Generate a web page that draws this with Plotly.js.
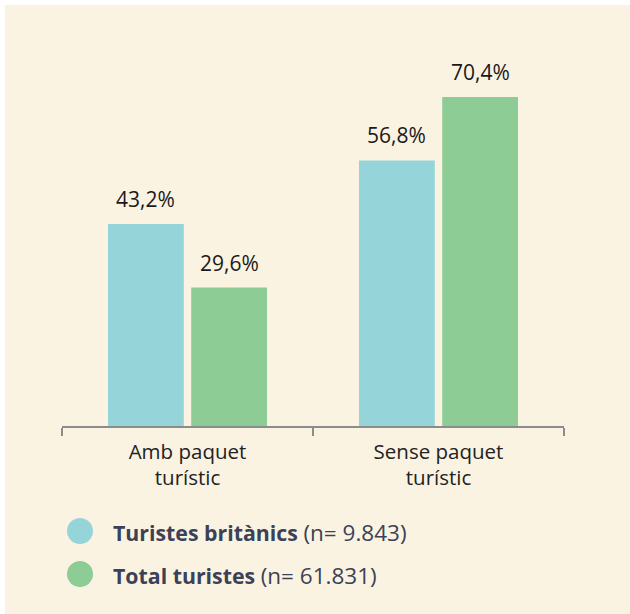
<!DOCTYPE html>
<html>
<head>
<meta charset="utf-8">
<script src="https://cdn.plot.ly/plotly-3.0.1.min.js"></script>
<style>
html,body{margin:0;padding:0;background:#ffffff;}
#chart{position:absolute;left:5px;top:5px;width:625px;height:609px;}
</style>
</head>
<body>
<div id="chart"></div>
<script>
// ---- data ----
const categories = ["Amb paquet<br>turístic", "Sense paquet<br>turístic"];
const seriesNames = ["Turistes britànics", "Total turistes"];
const seriesN = ["(n= 9.843)", "(n= 61.831)"];
const britanics = [43.2, 56.8];
const total = [29.6, 70.4];
const seriesValues = [britanics, total];

// ---- style ----
const colors = ["#95D5D9", "#8DCC95"];
const FONT = "Open Sans, sans-serif";
const fmt = v => v.toFixed(1).replace(".", ",") + "%";

const L = 57, R = 66, T = 47, B = 188, W = 625, H = 609;
const PW = W - L - R, PH = H - T - B;
// page pixel -> paper coords (div offset 5px)
const px = x => (x - 5 - L) / PW;
const py = y => (H - B - (y - 5)) / PH;

const traces = seriesValues.map((vals, i) => ({
  type: "bar",
  x: categories,
  y: vals,
  name: seriesNames[i],
  marker: {color: colors[i]},
  hoverinfo: "skip",
  showlegend: false
}));

const annotations = [];
seriesValues.forEach((vals, i) => {
  vals.forEach((v, j) => {
    annotations.push({
      x: j, y: v, xref: "x", yref: "y",
      xshift: (i === 0 ? -41.6 : 41.6),
      yanchor: "bottom", yshift: 9,
      text: fmt(v), showarrow: false,
      font: {family: FONT, size: 21, color: "#1a1a1a"}
    });
  });
});

const legendY = [531, 574];
const shapes = [];
seriesNames.forEach((nm, i) => {
  shapes.push({
    type: "circle", xref: "paper", yref: "paper",
    xsizemode: "pixel", ysizemode: "pixel",
    xanchor: px(80), yanchor: py(legendY[i]),
    x0: -13, x1: 13, y0: -13, y1: 13,
    fillcolor: colors[i], line: {width: 0}
  });
  annotations.push({
    xref: "paper", yref: "paper",
    x: px(111), y: py(legendY[i] + 1),
    xanchor: "left", yanchor: "middle",
    text: "<b>" + nm + "</b> <span style='font-size:22.5px'>" + seriesN[i] + "</span>",
    showarrow: false,
    font: {family: FONT, size: 21.3, color: "#3B4257"}
  });
});

const layout = {
  width: W, height: H,
  margin: {l: L, r: R, t: T, b: B, pad: 0},
  paper_bgcolor: "#FAF3E2",
  plot_bgcolor: "#FAF3E2",
  barmode: "group",
  bargap: 0.337,
  bargroupgap: 0.089,
  showlegend: false,
  xaxis: {
    type: "category",
    showline: true, linecolor: "#8C8C8C", linewidth: 2,
    ticks: "outside", tickson: "boundaries", ticklen: 8, tickwidth: 2, tickcolor: "#8C8C8C",
    ticklabelstandoff: 6,
    showgrid: false, zeroline: false,
    tickfont: {family: FONT, size: 20.5, color: "#222222"},
    fixedrange: true
  },
  yaxis: {
    range: [0, 80], visible: false, showgrid: false, zeroline: false, fixedrange: true
  },
  annotations: annotations,
  shapes: shapes,
  font: {family: FONT}
};

Plotly.newPlot("chart", traces, layout, {displayModeBar: false, staticPlot: true});
</script>
</body>
</html>
